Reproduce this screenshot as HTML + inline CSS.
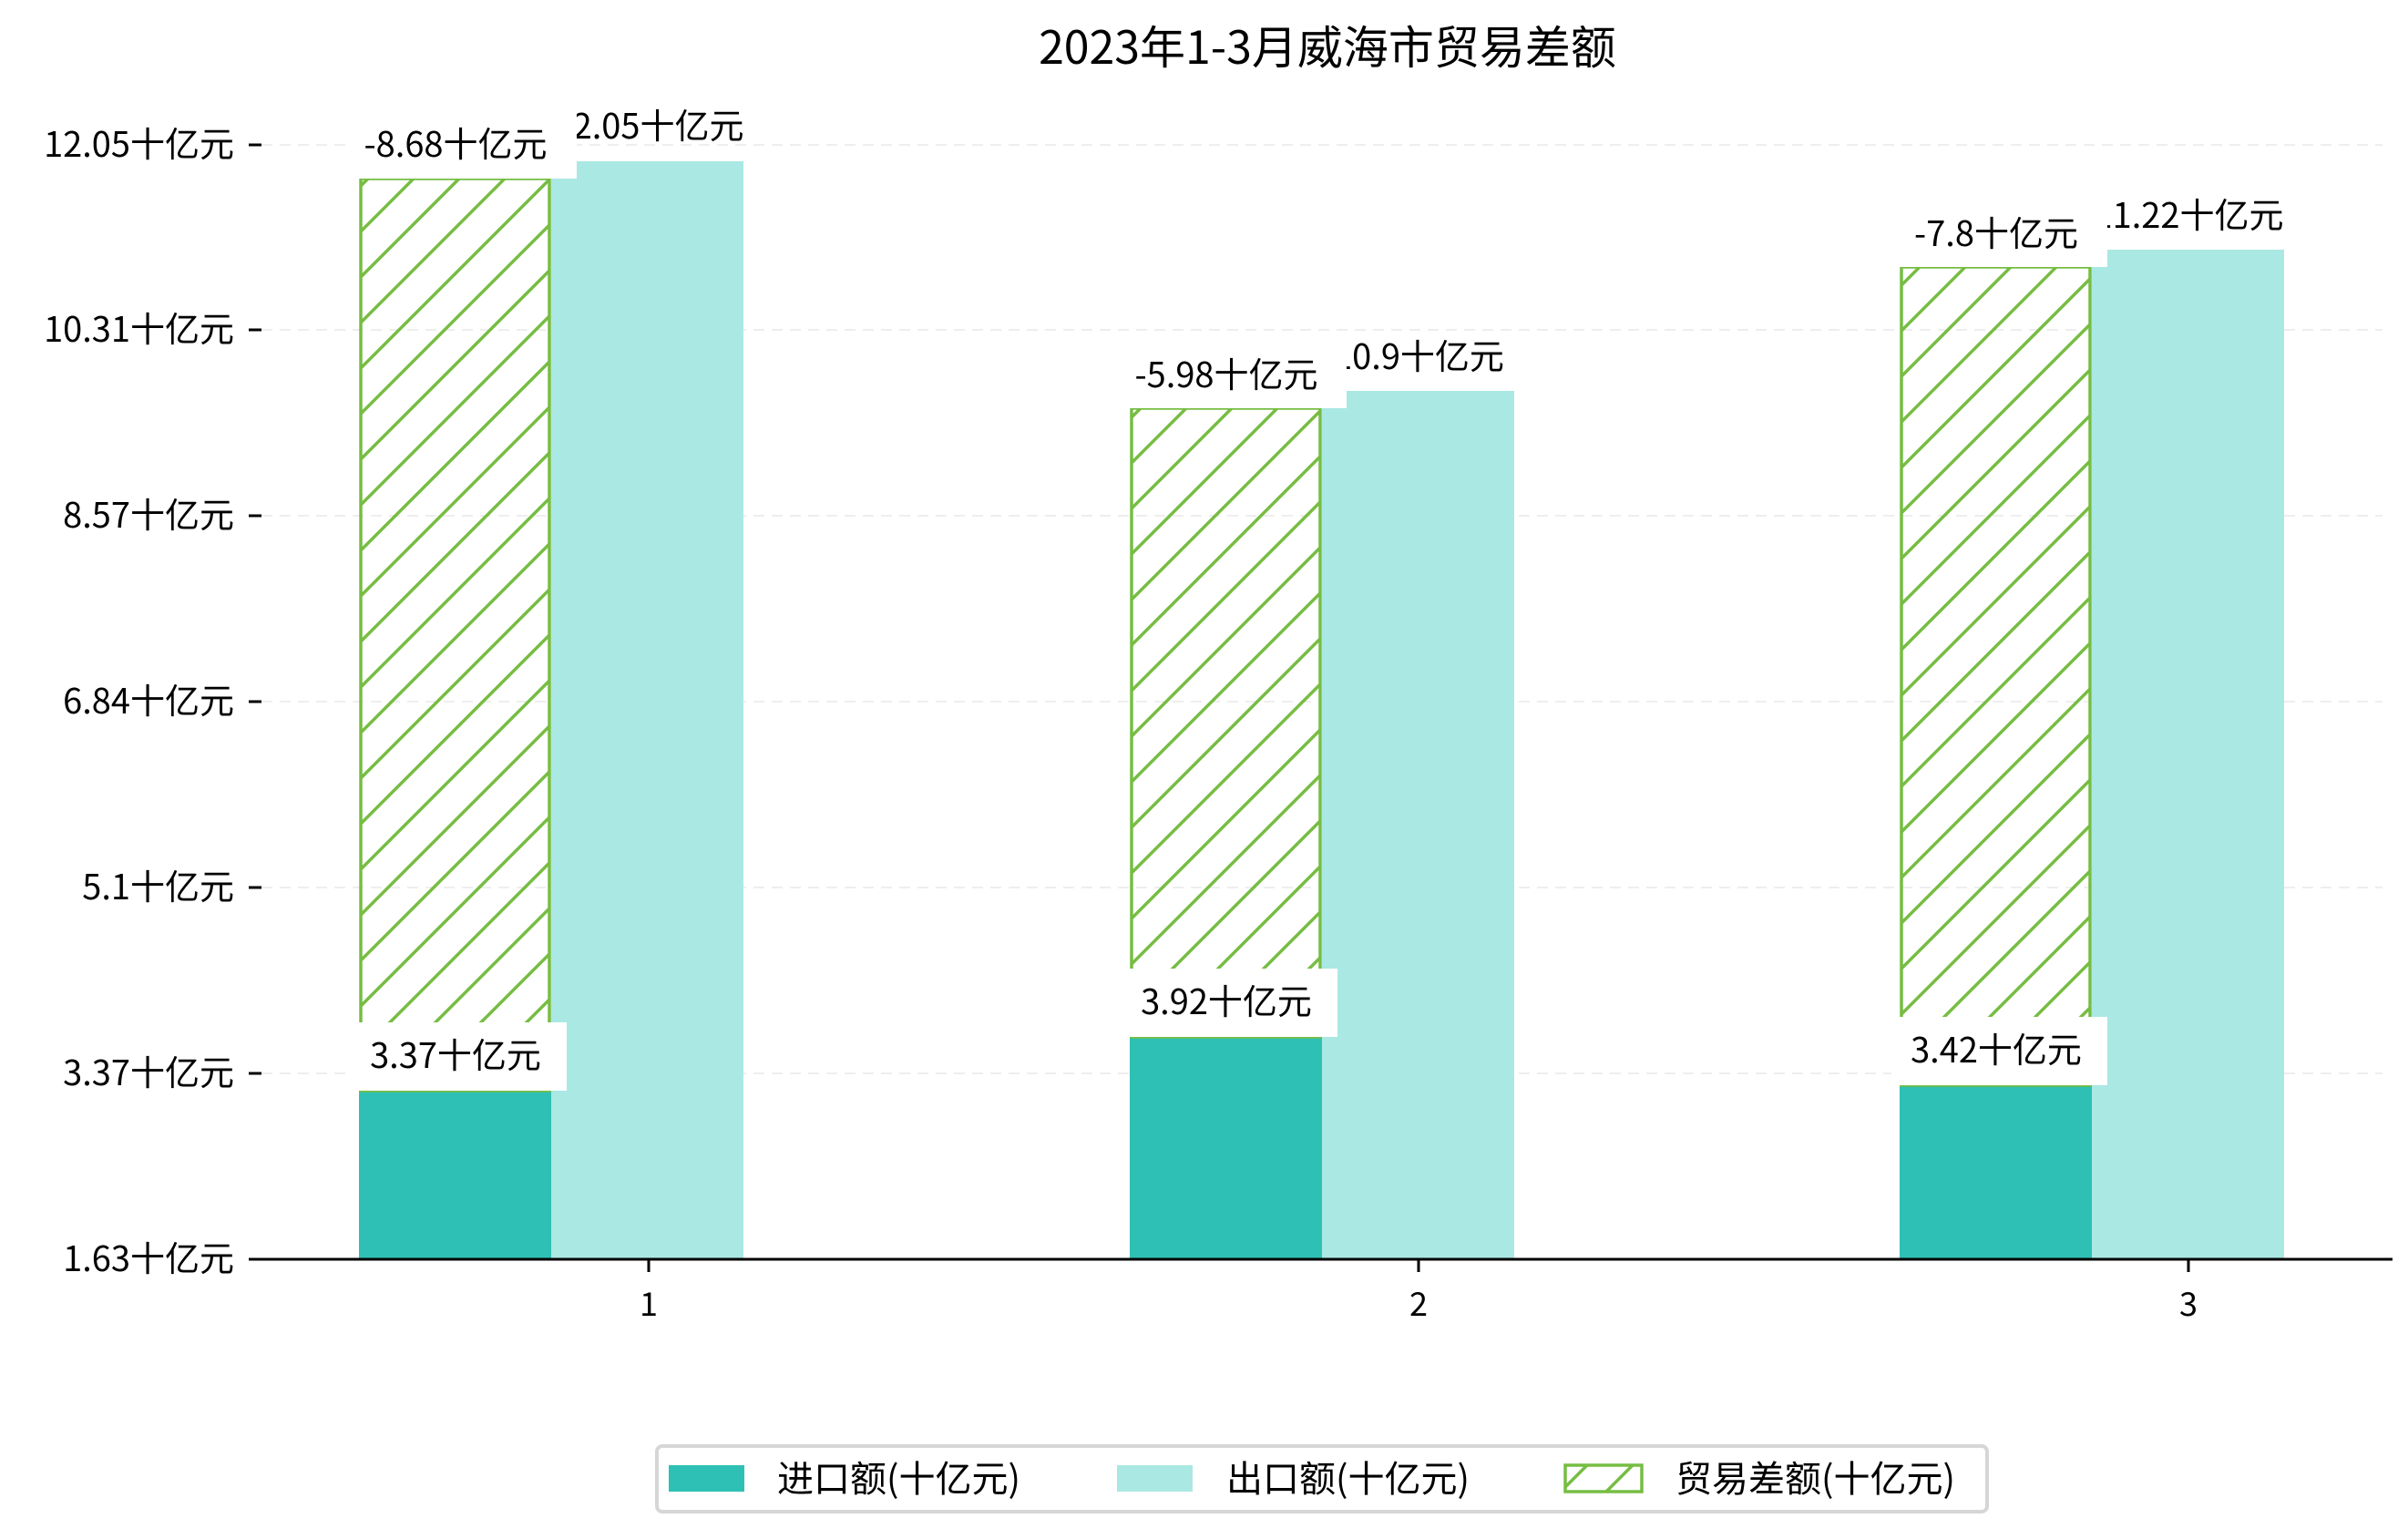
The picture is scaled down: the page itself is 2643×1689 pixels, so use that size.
<!DOCTYPE html>
<html><head><meta charset="utf-8"><style>
html,body{margin:0;padding:0;background:#fff}
svg{display:block}
text{font-family:"WenQuanYi Zen Hei","Noto Sans CJK SC",sans-serif;fill:#000}
</style></head><body>
<svg width="2643" height="1689" viewBox="0 0 2643 1689" xmlns="http://www.w3.org/2000/svg">
<defs>
<pattern id="h" patternUnits="userSpaceOnUse" width="50" height="50">
<path d="M-10,10 L10,-10 M0,50 L50,0 M40,60 L60,40" stroke="#76bd43" stroke-width="3.5"/>
</pattern>
</defs>
<text x="1457" y="70" font-size="50" text-anchor="middle">2023年1-3月威海市贸易差额</text>
<g stroke="#eeeeee" stroke-width="2" stroke-dasharray="12,8">
<line x1="287" y1="159" x2="2615" y2="159"/><line x1="287" y1="362" x2="2615" y2="362"/>
<line x1="287" y1="566" x2="2615" y2="566"/><line x1="287" y1="770" x2="2615" y2="770"/>
<line x1="287" y1="974" x2="2615" y2="974"/><line x1="287" y1="1178" x2="2615" y2="1178"/>
</g>
<g font-size="38" text-anchor="end">
<text x="257" y="172">12.05十亿元</text><text x="257" y="375">10.31十亿元</text>
<text x="257" y="579">8.57十亿元</text><text x="257" y="783">6.84十亿元</text>
<text x="257" y="987">5.1十亿元</text><text x="257" y="1191">3.37十亿元</text>
<text x="257" y="1395">1.63十亿元</text>
</g>
<g stroke="#000" stroke-width="3">
<line x1="273" y1="159" x2="287" y2="159"/><line x1="273" y1="362" x2="287" y2="362"/>
<line x1="273" y1="566" x2="287" y2="566"/><line x1="273" y1="770" x2="287" y2="770"/>
<line x1="273" y1="974" x2="287" y2="974"/><line x1="273" y1="1178" x2="287" y2="1178"/>
<line x1="273" y1="1382" x2="287" y2="1382"/>
</g>
<!-- group 1 -->
<rect x="394" y="1197" width="211" height="185" fill="#2ec0b4"/>
<rect x="605" y="177" width="211" height="1205" fill="#aae8e3"/>
<rect x="396" y="196" width="207" height="1001" fill="url(#h)" stroke="#76bd43" stroke-width="3.5"/>
<!-- group 2 -->
<rect x="1240" y="1138" width="211" height="244" fill="#2ec0b4"/>
<rect x="1451" y="429" width="211" height="953" fill="#aae8e3"/>
<rect x="1242" y="448" width="207" height="690" fill="url(#h)" stroke="#76bd43" stroke-width="3.5"/>
<!-- group 3 -->
<rect x="2085" y="1191" width="211" height="191" fill="#2ec0b4"/>
<rect x="2296" y="274" width="211" height="1108" fill="#aae8e3"/>
<rect x="2087" y="293" width="207" height="898" fill="url(#h)" stroke="#76bd43" stroke-width="3.5"/>
<!-- export labels -->
<g font-size="38" text-anchor="middle">
<text x="712" y="152">12.05十亿元</text>
<text x="1557" y="405">10.9十亿元</text>
<text x="2402" y="250">11.22十亿元</text>
</g>
<!-- diff label boxes -->
<rect x="385" y="121" width="248" height="75" fill="#fff"/>
<rect x="1230" y="373" width="248" height="75" fill="#fff"/>
<rect x="2075" y="218" width="238" height="75" fill="#fff"/>
<rect x="385" y="1122" width="237" height="75" fill="#fff"/>
<rect x="1231" y="1063" width="237" height="75" fill="#fff"/>
<rect x="2076" y="1116" width="237" height="75" fill="#fff"/>
<g font-size="38" text-anchor="middle">
<text x="500" y="172">-8.68十亿元</text>
<text x="1346" y="425">-5.98十亿元</text>
<text x="2191" y="270">-7.8十亿元</text>
<text x="500" y="1172">3.37十亿元</text>
<text x="1346" y="1113">3.92十亿元</text>
<text x="2191" y="1166">3.42十亿元</text>
</g>
<line x1="280" y1="1382" x2="2626" y2="1382" stroke="#000" stroke-width="3"/>
<g stroke="#000" stroke-width="3">
<line x1="712" y1="1382" x2="712" y2="1396"/><line x1="1557" y1="1382" x2="1557" y2="1396"/><line x1="2402" y1="1382" x2="2402" y2="1396"/>
</g>
<g font-size="36" text-anchor="middle">
<text x="712" y="1444">1</text><text x="1557" y="1444">2</text><text x="2402" y="1444">3</text>
</g>
<!-- legend -->
<rect x="721" y="1587" width="1460" height="72" rx="6" fill="#fff" stroke="#d6d6d6" stroke-width="4"/>
<rect x="734" y="1608" width="83" height="29" fill="#2ec0b4"/>
<rect x="1226" y="1608" width="83" height="29" fill="#aae8e3"/>
<rect x="1718" y="1608" width="84" height="29" fill="url(#h)" stroke="#76bd43" stroke-width="3.5"/>
<g font-size="40">
<text x="853" y="1637">进口额(十亿元)</text>
<text x="1346" y="1637">出口额(十亿元)</text>
<text x="1839" y="1637">贸易差额(十亿元)</text>
</g>
</svg>
</body></html>
